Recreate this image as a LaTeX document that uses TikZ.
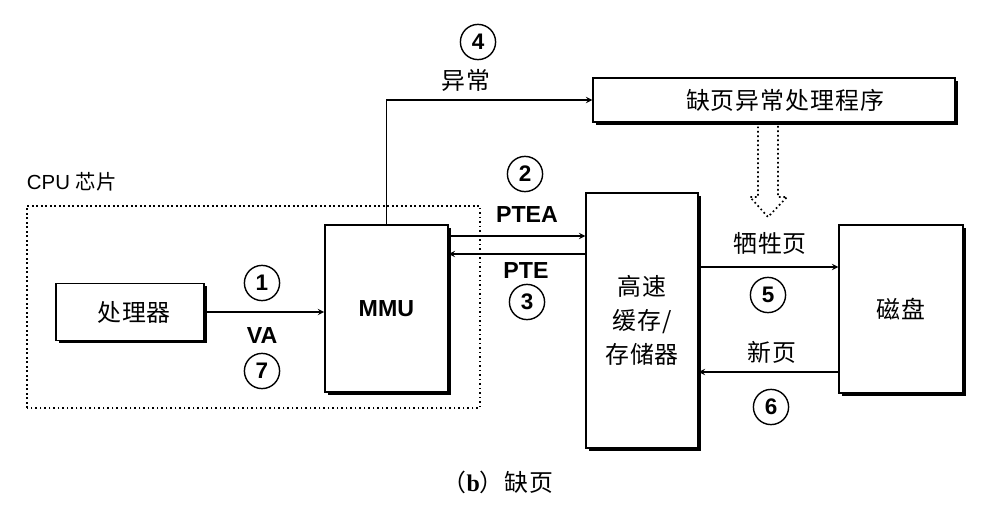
\documentclass[tikz,border=0pt]{standalone}
\usepackage{fontspec}
\setmainfont{Liberation Sans}
\newfontfamily\zh[LetterSpace=4]{Noto Sans CJK SC}
\newfontfamily\serifb{Liberation Serif}
\usetikzlibrary{shadows,calc}

\begin{document}
\begin{tikzpicture}[>=stealth,
    box/.style={draw, fill=white, line width=1pt,
      drop shadow={shadow xshift=0.07cm, shadow yshift=-0.07cm, fill=black, opacity=1},
      font=\zh\fontsize{17}{24}\selectfont},
    num/.style={circle, draw, line width=1pt, minimum size=0.88cm, inner sep=0pt,
      font=\fontsize{16}{18}\selectfont\bfseries},
    lab/.style={font=\fontsize{16.5}{20}\selectfont\bfseries},
    zhlab/.style={font=\zh\fontsize{17}{20}\selectfont},
    wire/.style={->, line width=1pt}]
  \useasboundingbox (0,0) rectangle (25,12.6);
  % CPU 芯片
  \draw[dotted, line width=1.2pt] (0.675,2.4) rectangle (12.0,7.45);
  \node[anchor=west, font=\fontsize{14.5}{18}\selectfont] (cpu) at (0.55,8.05) {CPU {\zh 芯片}};
  % 各部件
  \node[box, minimum width=3.7cm, minimum height=1.425cm] (proc) at (3.25,4.8) {\hspace*{0.2cm}处理器};
  \node[box, minimum width=3.075cm, minimum height=4.175cm, font=\fontsize{16.5}{20}\selectfont\bfseries] (mmu) at (9.66,4.89) {MMU};
  \node[box, minimum width=2.8cm, minimum height=6.375cm, align=center] (cache) at (16.05,4.59) {高速\\缓存/\\存储器};
  \node[box, minimum width=3.1cm, minimum height=4.2cm] (disk) at (22.525,4.875) {磁盘};
  \node[box, minimum width=9.05cm, minimum height=1.1cm] (handler) at (19.35,10.1) {\hspace*{0.55cm}缺页异常处理程序};
  % 连线
  \draw[wire] (proc.east) -- (proc.east -| mmu.west);
  \draw[wire] (mmu.north) |- (handler.west);
  \draw[wire] ([yshift=1.81cm]mmu.east) -- ([yshift=1.81cm]mmu.east -| cache.west);
  \draw[wire] ([yshift=1.66cm]cache.west) -- ([yshift=1.66cm]cache.west -| mmu.east);
  \draw[wire] ([yshift=1.335cm]cache.east) -- ([yshift=1.335cm]cache.east -| disk.west);
  \draw[wire] ([yshift=-1.29cm]disk.west |- cache.east) -- ([yshift=-1.29cm]cache.east);
  % 空心箭头
  \coordinate (hol) at (19.2,9.55);
  \draw[dotted, line width=1.2pt] ($(hol)+(-0.25,0)$) -- ++(0,-1.875) -- ++(-0.2,0)
    -- ($(hol)+(0,-2.375)$) -- ($(hol)+(0.475,-1.875)$) -- ++(-0.225,0) -- ++(0,1.875);
  % 标注
  \node[num] (n1) at (6.55,5.525) {1};
  \node[lab] (va) at (6.55,4.2) {VA};
  \node[num] (n7) at (6.55,3.325) {7};
  \node[num] (n2) at (13.125,8.25) {2};
  \node[lab] (ptea) at (13.175,7.225) {PTEA};
  \node[lab] (pte) at (13.15,5.825) {PTE};
  \node[num] (n3) at (13.175,5.05) {3};
  \node[num] (n4) at (11.95,11.55) {4};
  \node[zhlab] (exc) at (11.65,10.6) {异常};
  \node[zhlab] (victim) at (19.25,6.525) {牺牲页};
  \node[num] (n5) at (19.2,5.225) {5};
  \node[zhlab] (newpg) at (19.3,3.8) {新页};
  \node[num] (n6) at (19.275,2.425) {6};
  \node[zhlab] (cap) at (12.45,0.55) {（{\serifb\bfseries b}）缺页};
\end{tikzpicture}
\end{document}
